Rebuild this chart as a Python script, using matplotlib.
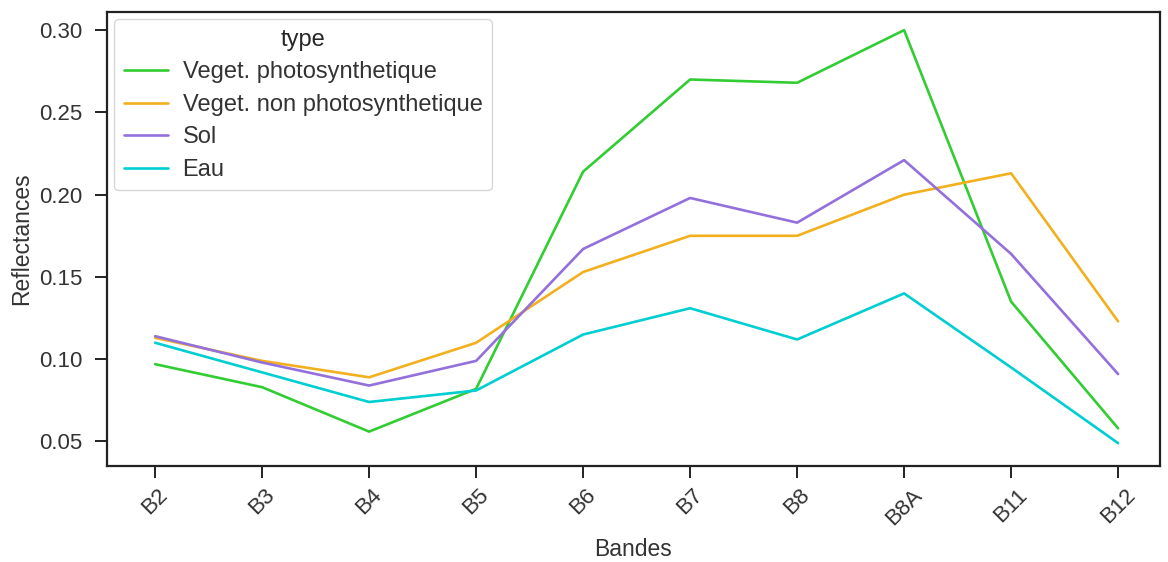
import matplotlib
matplotlib.use("Agg")
import matplotlib.pyplot as plt
import seaborn as sns

# --- Data ---
bandes = ["B2", "B3", "B4", "B5", "B6", "B7", "B8", "B8A", "B11", "B12"]

veget_photo     = [0.097, 0.083, 0.056, 0.082, 0.214, 0.270, 0.268, 0.300, 0.135, 0.058]
veget_non_photo = [0.113, 0.099, 0.089, 0.110, 0.153, 0.175, 0.175, 0.200, 0.213, 0.123]
sol             = [0.114, 0.098, 0.084, 0.099, 0.167, 0.198, 0.183, 0.221, 0.164, 0.091]
eau             = [0.110, 0.092, 0.074, 0.081, 0.115, 0.131, 0.112, 0.140, 0.095, 0.049]

types = ["Veget. photosynthetique", "Veget. non photosynthetique", "Sol", "Eau"]
colors = ["limegreen", "#f2b01e", "mediumpurple", "darkturquoise"]

sns.set_style("ticks")
plt.rcParams["font.family"] = ["Liberation Sans", "DejaVu Sans"]

fig = plt.figure(figsize=(11.68, 5.62), dpi=100)
ax = fig.add_axes([0.0916, 0.1708, 0.9014, 0.8078])

x = list(range(len(bandes)))
for name, vals, col in zip(types, [veget_photo, veget_non_photo, sol, eau], colors):
    ax.plot(x, vals, color=col, lw=1.9, label=name)

ax.set_xticks(x)
ax.set_xticklabels(bandes, rotation=45)
ax.set_xlim(-0.45, 9.39)
ax.set_ylim(0.0351, 0.311)
ax.set_yticks([0.05, 0.10, 0.15, 0.20, 0.25, 0.30])
ax.set_yticklabels(["0.05", "0.10", "0.15", "0.20", "0.25", "0.30"])
ax.tick_params(labelsize=16, length=8.5, width=1.4, pad=5, colors="#222222", labelcolor="#333333")
ax.tick_params(axis="y", pad=9)
for sp in ax.spines.values():
    sp.set_linewidth(1.6)
    sp.set_color("#222222")

ax.set_xlabel("Bandes", fontsize=16.5, color="#333333", labelpad=6)
ax.set_ylabel("Reflectances", fontsize=16.5, color="#333333")
ax.yaxis.set_label_coords(-0.070, 0.5)

leg = ax.legend(title="type", loc="upper left", fontsize=17, title_fontsize=17,
                handlelength=1.9, handletextpad=0.6, borderpad=0.4,
                labelspacing=0.45, borderaxespad=0.3)
for t in leg.get_texts():
    t.set_color("#333333")

fig.savefig("out.png", dpi=100)
